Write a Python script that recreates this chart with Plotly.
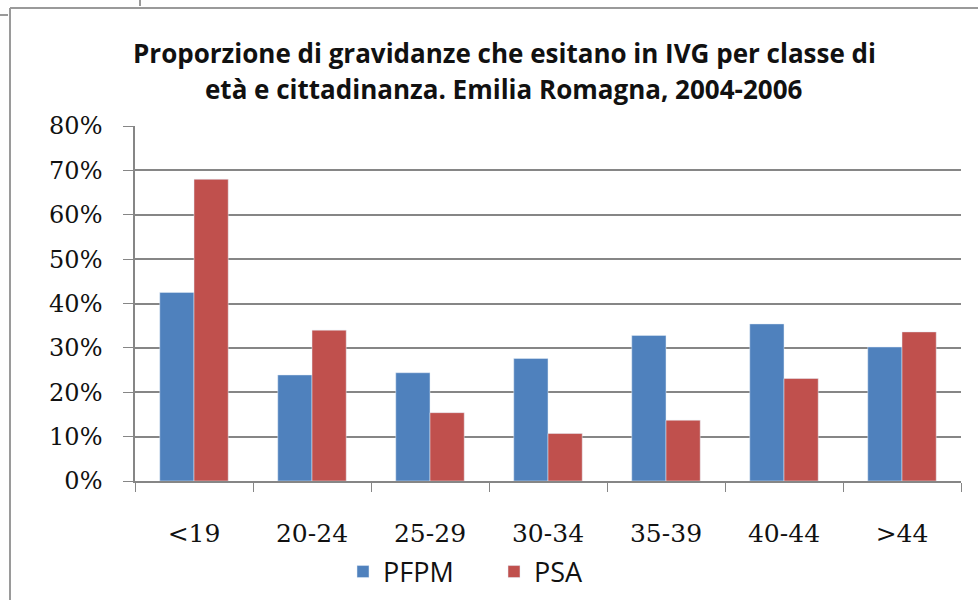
import plotly.graph_objects as go

categories = ["<19", "20-24", "25-29", "30-34", "35-39", "40-44", ">44"]
pfpm = [0.425, 0.239, 0.244, 0.276, 0.328, 0.354, 0.302]
psa = [0.680, 0.340, 0.154, 0.107, 0.137, 0.231, 0.336]
y_ticks = [0, 0.1, 0.2, 0.3, 0.4, 0.5, 0.6, 0.7, 0.8]
title_lines = ["Proporzione di gravidanze che esitano in IVG per classe di",
               "età e cittadinanza. Emilia Romagna, 2004-2006"]

W, H = 978, 600
L, R, T, B = 135, 961, 126, 481

def px_x(px):
    return (px - L) / (R - L)

def px_y(py):
    return (B - py) / (B - T)

fig = go.Figure()
fig.add_trace(go.Bar(x=categories, y=pfpm, name="PFPM", marker_color="#4F81BD"))
fig.add_trace(go.Bar(x=categories, y=psa, name="PSA", marker_color="#C0504D"))

serif = "DejaVu Serif"
fig.update_layout(
    width=W, height=H,
    margin=dict(l=L, r=W - R, t=T, b=H - B, autoexpand=False),
    paper_bgcolor="white", plot_bgcolor="white",
    barmode="group", bargap=0.42, bargroupgap=0,
    showlegend=True,
    legend=dict(orientation="h", x=px_x(343), xanchor="left",
                y=px_y(572), yanchor="middle",
                font=dict(family="Open Sans", size=27, color="#111"),
                itemwidth=30, entrywidth=106, traceorder="normal"),
    xaxis=dict(type="category", showline=True, linecolor="#868686", linewidth=1.5,
               ticks="outside", tickson="boundaries", ticklen=9, tickcolor="#868686",
               tickfont=dict(family=serif, size=25, color="#111"),
               ticklabelstandoff=29, showgrid=False),
    yaxis=dict(range=[0, 0.8], tickvals=y_ticks, tickformat=".0%",
               showline=True, linecolor="#868686", linewidth=1.5,
               ticks="outside", ticklen=10, tickcolor="#868686",
               showgrid=True, gridcolor="#868686", gridwidth=1.5,
               zeroline=False,
               tickfont=dict(family=serif, size=24, color="#111"),
               ticklabelstandoff=16),
)

for i, line in enumerate(title_lines):
    fig.add_annotation(text="<b>" + line + "</b>", xref="paper", yref="paper",
                       x=px_x(504), y=px_y(53 + 36 * i), xanchor="center", yanchor="middle",
                       showarrow=False,
                       font=dict(family="Open Sans", size=26, color="#111"))

border = dict(color="#9a9a9a", width=2)
fig.add_shape(type="line", xref="paper", yref="paper",
              x0=px_x(10), x1=px_x(10), y0=px_y(8), y1=px_y(600), line=border)
fig.add_shape(type="line", xref="paper", yref="paper",
              x0=px_x(10), x1=px_x(978), y0=px_y(8), y1=px_y(8), line=border)
fig.add_shape(type="line", xref="paper", yref="paper",
              x0=px_x(0), x1=px_x(8), y0=px_y(15), y1=px_y(15), line=border)
fig.add_shape(type="line", xref="paper", yref="paper",
              x0=px_x(140), x1=px_x(140), y0=px_y(0), y1=px_y(6), line=border)

fig.write_html("out.html", config={"displayModeBar": False},
               post_script="document.body.style.margin='0';document.body.style.overflow='hidden';")
